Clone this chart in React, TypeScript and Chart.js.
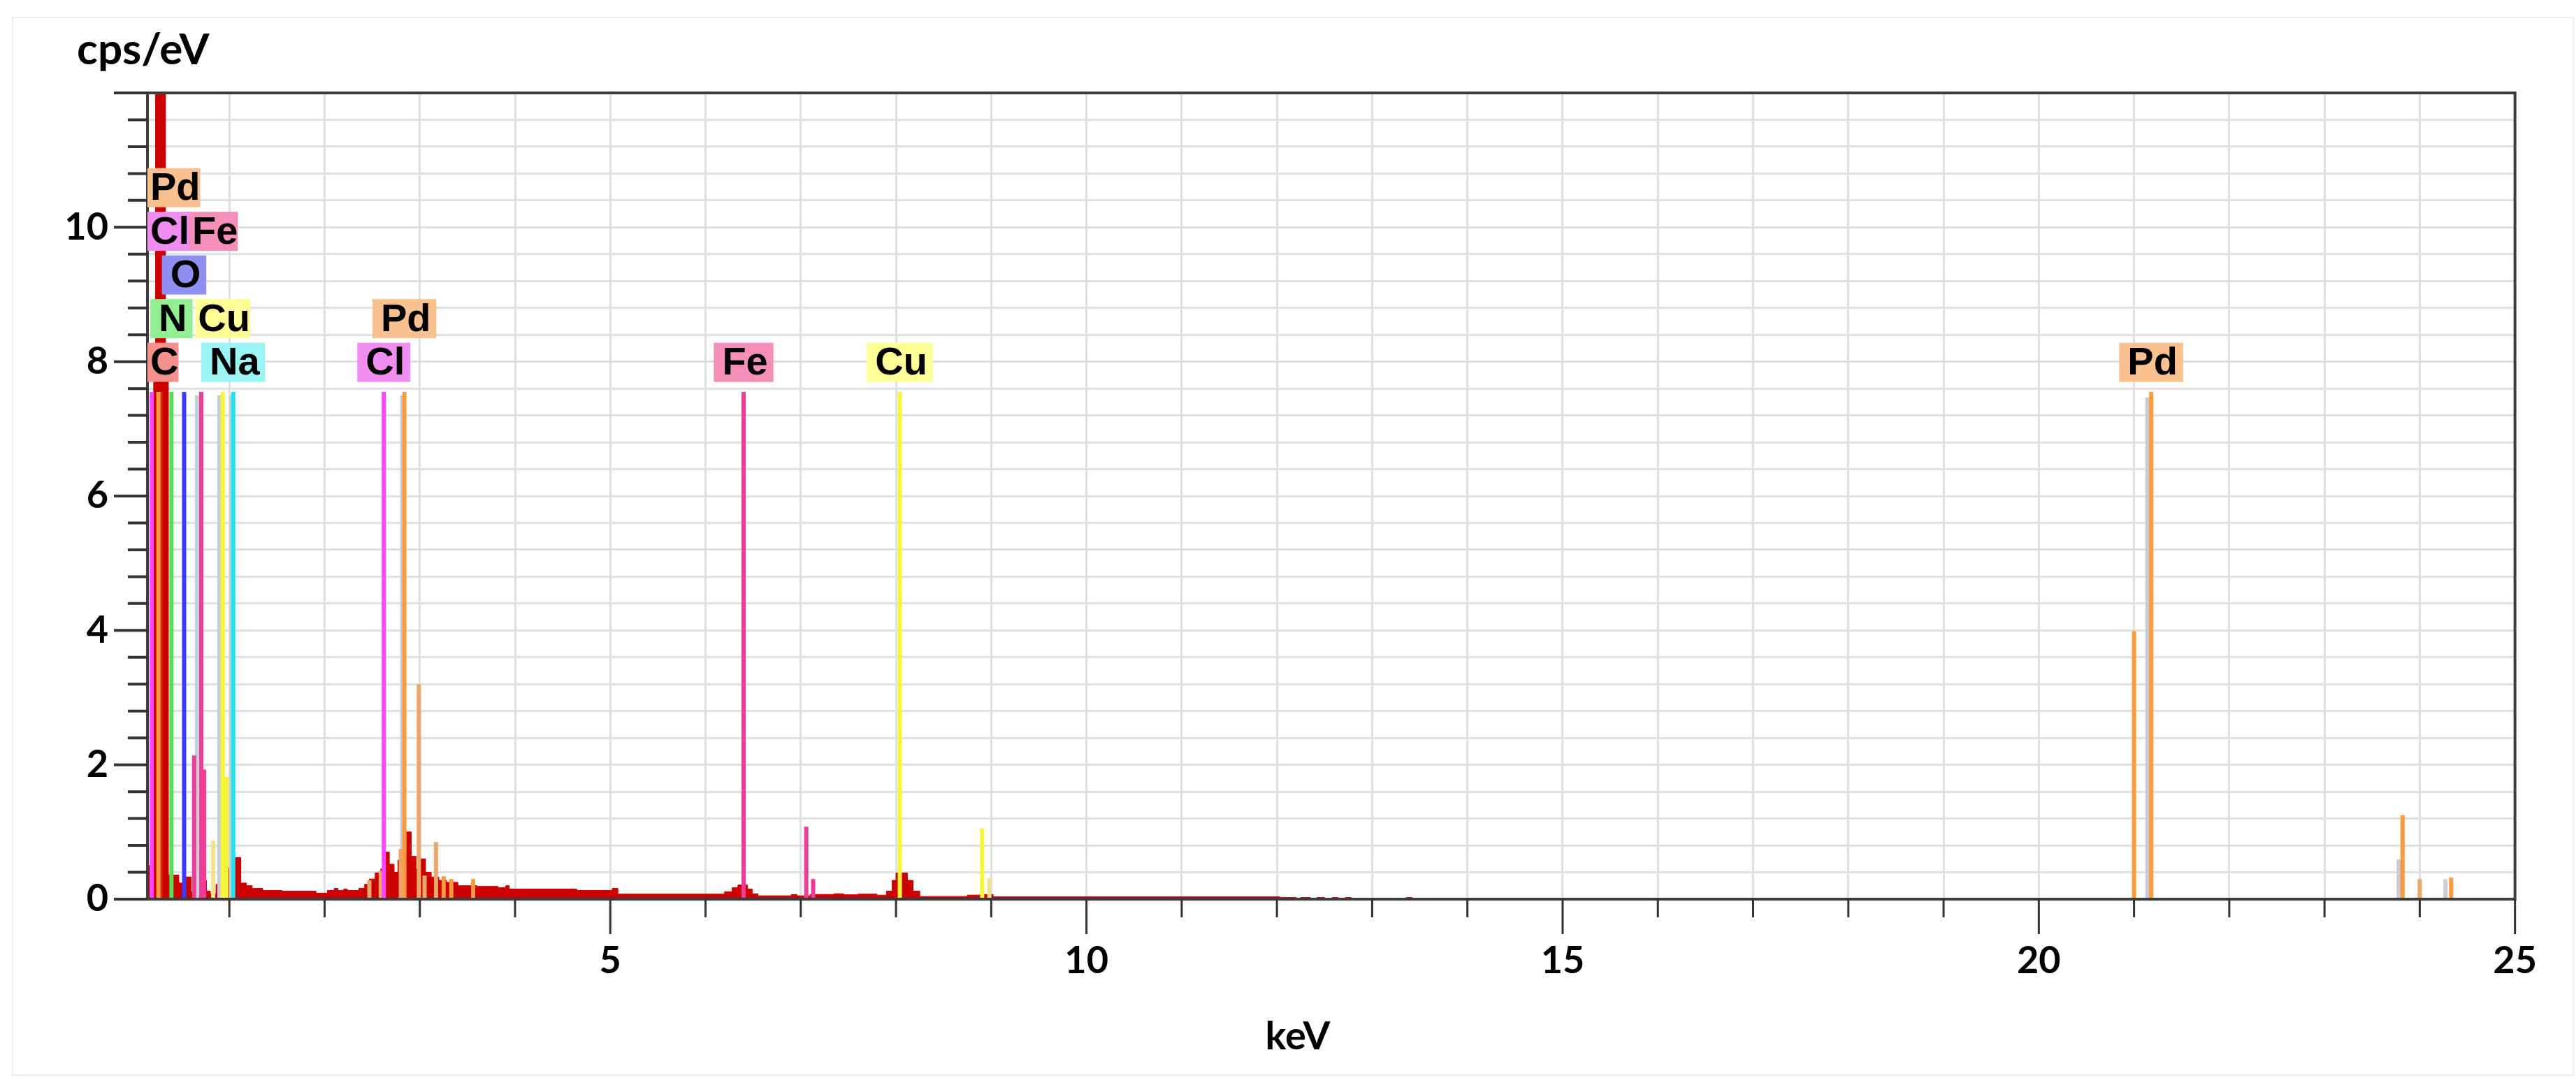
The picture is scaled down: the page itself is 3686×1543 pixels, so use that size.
import { useEffect, useRef } from "react";
import { Chart, registerables } from "chart.js";

Chart.register(...registerables);

// ---------------- data ----------------
// Measured spectrum, step bins: start energy (keV) and counts (cps/eV)
const SPECTRUM_KEV = [
  0.14, 0.19, 0.205, 0.225, 0.33, 0.36, 0.47, 0.515, 0.6, 0.67, 0.69, 0.76, 0.8, 0.86, 0.9, 0.96,
  1.02, 1.05, 1.12, 1.18, 1.24, 1.35, 1.55, 1.91, 2.03, 2.1, 2.14, 2.2, 2.24, 2.36, 2.42, 2.47,
  2.53, 2.59, 2.63, 2.68, 2.73, 2.77, 2.81, 2.86, 2.91, 2.96, 3.0, 3.06, 3.12, 3.2, 3.28, 3.4,
  3.6, 3.82, 3.9, 3.94, 4.65, 5.02, 5.08, 6.2, 6.28, 6.34, 6.44, 6.49, 6.55, 6.9, 6.96, 7.1,
  7.35, 7.45, 7.6, 7.8, 7.9, 7.96, 8.0, 8.12, 8.18, 8.25, 8.75, 8.88, 9.02, 12.03, 12.2, 12.25,
  12.35, 12.42, 12.5, 12.58, 12.64, 12.72, 12.78, 13.36, 13.42,
];
const SPECTRUM_CPS = [
  0.5, 0.5, 7.7, 14, 7.7, 0.36, 0.24, 0.33, 0.11, 0.06, 0.28, 0.12, 0.08, 0.22, 0.54, 0.46,
  0.42, 0.62, 0.24, 0.2, 0.16, 0.13, 0.12, 0.09, 0.13, 0.16, 0.13, 0.15, 0.13, 0.16, 0.22, 0.3,
  0.39, 0.45, 0.7, 0.52, 0.4, 0.58, 0.76, 1.0, 0.64, 0.45, 0.6, 0.4, 0.33, 0.28, 0.25, 0.2,
  0.19, 0.17, 0.2, 0.15, 0.13, 0.16, 0.075, 0.11, 0.17, 0.21, 0.15, 0.08, 0.05, 0.07, 0.05, 0.07,
  0.08, 0.065, 0.075, 0.06, 0.12, 0.28, 0.39, 0.28, 0.12, 0.04, 0.06, 0.07, 0.035, 0.025, 0, 0.025,
  0, 0.025, 0, 0.025, 0, 0.025, 0, 0.025, 0,
];

// Element line markers: energy (keV) and marker height (cps/eV)
const C_KEV = [0.277];
const C_CPS = [7.55];
const N_KEV = [0.392];
const N_CPS = [7.55];
const O_KEV = [0.525];
const O_CPS = [7.55];
const NA_KEV = [1.041];
const NA_CPS = [7.55];
const CL_KEV = [0.185, 2.622];
const CL_CPS = [7.55, 7.55];
const FE_KEV = [0.63, 0.705, 0.735, 6.4, 7.058, 7.13];
const FE_CPS = [2.14, 7.55, 1.93, 7.55, 1.08, 0.3];
const CU_KEV = [0.93, 0.97, 8.04, 8.905];
const CU_CPS = [7.55, 1.82, 7.55, 1.05];
const CU_MINOR_KEV = [0.83, 8.98];
const CU_MINOR_CPS = [0.87, 0.31];
const PD_KEV = [0.255, 2.838, 3.25, 3.33, 3.56, 21.0, 21.18, 23.82, 24.33];
const PD_CPS = [7.55, 7.55, 0.34, 0.3, 0.3, 3.99, 7.55, 1.25, 0.32];
const PD_MINOR_KEV = [2.47, 2.59, 2.8, 2.99, 3.05, 3.17, 24.0];
const PD_MINOR_CPS = [0.28, 0.42, 0.75, 3.2, 0.35, 0.85, 0.3];
const OTHER_KEV = [0.66, 0.895, 1.02, 2.815, 21.14, 23.78, 24.27];
const OTHER_CPS = [7.5, 7.5, 7.5, 7.5, 7.47, 0.59, 0.3];

// Peak labels: text, energy it belongs to, stacking row
const LABEL_TEXT = ["C", "Na", "Cl", "Fe", "Cu", "Pd", "N", "Cu", "Pd", "O", "Cl", "Fe", "Pd"];
const LABEL_KEV = [0.277, 1.041, 2.622, 6.4, 8.04, 21.18, 0.392, 0.93, 2.838, 0.525, 0.185, 0.705, 0.255];
const LABEL_ROW = [0, 0, 0, 0, 0, 0, 1, 1, 1, 2, 3, 3, 4];

// Axes
const X_MIN = 0.14;
const X_MAX = 25;
const Y_MIN = 0;
const Y_MAX = 12;
const X_TICK_LABELS = [5, 10, 15, 20, 25];
const Y_TICK_LABELS = [0, 2, 4, 6, 8, 10];
const X_MINOR_STEP = 1;
const Y_MINOR_STEP = 0.4;

// ---------------- styles ----------------
const SERIES = [
  { name: "Pd", keV: PD_KEV, cps: PD_CPS, color: "#ff9a3c" },
  { name: "Cl", keV: CL_KEV, cps: CL_CPS, color: "#ff45ff" },
  { name: "Fe", keV: FE_KEV, cps: FE_CPS, color: "#f03c96" },
  { name: "Cu", keV: CU_KEV, cps: CU_CPS, color: "#f7f53a" },
  { name: "Na", keV: NA_KEV, cps: NA_CPS, color: "#22e2f0" },
  { name: "O", keV: O_KEV, cps: O_CPS, color: "#3a3aff" },
  { name: "N", keV: N_KEV, cps: N_CPS, color: "#55dd55" },
  { name: "C", keV: C_KEV, cps: C_CPS, color: "#dd2222" },
  { name: "Pd minor", keV: PD_MINOR_KEV, cps: PD_MINOR_CPS, color: "#eba66a" },
  { name: "Cu minor", keV: CU_MINOR_KEV, cps: CU_MINOR_CPS, color: "#eee48e" },
  { name: "other", keV: OTHER_KEV, cps: OTHER_CPS, color: "#c9cdd5" },
];
const LABEL_BG: Record<string, string> = {
  Pd: "#f9c18f",
  Cl: "#f08ef0",
  Fe: "#f58fba",
  O: "#8f8ff2",
  N: "#92ee92",
  Cu: "#ffff98",
  C: "#f4918d",
  Na: "#9af4f4",
};
const AXIS_FONT = "Lato";
const LABEL_FONT = '"Liberation Sans"';

function markerData(keV: number[], cps: number[]) {
  const idx = keV.map((_, i) => i).sort((a, b) => keV[a] - keV[b]);
  const pts: { x: number; y: number | null }[] = [];
  idx.forEach((i) => {
    pts.push({ x: keV[i], y: 0 });
    pts.push({ x: keV[i], y: cps[i] });
    pts.push({ x: keV[i], y: null });
  });
  return pts;
}

const decorPlugin = {
  id: "edsDecor",
  beforeDraw(chart: any) {
    const { ctx, width, height } = chart;
    ctx.save();
    ctx.fillStyle = "#ffffff";
    ctx.fillRect(0, 0, width, height);
    ctx.strokeStyle = "#ededed";
    ctx.lineWidth = 2;
    ctx.strokeRect(18, 25, width - 22, height - 29);
    ctx.restore();
  },
  afterDatasetsDraw(chart: any) {
    const { ctx, chartArea: ca, scales } = chart;
    const xs = scales.x;
    const ys = scales.y;
    ctx.save();
    // frame
    ctx.strokeStyle = "#3c3c3c";
    ctx.lineWidth = 4;
    ctx.lineCap = "butt";
    ctx.beginPath();
    ctx.moveTo(ca.left, ca.top);
    ctx.lineTo(ca.left, ca.bottom);
    ctx.moveTo(ca.left - 2, ca.bottom);
    ctx.lineTo(ca.right + 2, ca.bottom);
    ctx.moveTo(ca.left, ca.top);
    ctx.lineTo(ca.right + 2, ca.top);
    ctx.moveTo(ca.right, ca.top);
    ctx.lineTo(ca.right, ca.bottom);
    ctx.stroke();
    // y ticks
    ctx.strokeStyle = "#333333";
    ctx.lineWidth = 4;
    ctx.beginPath();
    for (let i = 0; i * Y_MINOR_STEP <= Y_MAX + 1e-9; i++) {
      const v = +(i * Y_MINOR_STEP).toFixed(3);
      const major = Math.abs(v / 2 - Math.round(v / 2)) < 1e-6;
      const len = major ? 48 : 28;
      const py = ys.getPixelForValue(v);
      ctx.moveTo(ca.left - len, py);
      ctx.lineTo(ca.left, py);
    }
    ctx.stroke();
    // x ticks
    ctx.lineWidth = 3;
    ctx.beginPath();
    for (let v = X_MINOR_STEP; v <= X_MAX + 1e-9; v += X_MINOR_STEP) {
      const major = v % 5 === 0;
      const len = major ? 50 : 26;
      const px = xs.getPixelForValue(v);
      ctx.moveTo(px, ca.bottom);
      ctx.lineTo(px, ca.bottom + len);
    }
    ctx.stroke();

    // peak labels
    ctx.font = `bold 56px ${LABEL_FONT}`;
    ctx.textAlign = "center";
    ctx.textBaseline = "middle";
    const order = LABEL_TEXT.map((_, i) => i).sort(
      (a, b) => LABEL_ROW[a] - LABEL_ROW[b] || LABEL_KEV[a] - LABEL_KEV[b]
    );
    const rowRight: Record<number, number> = {};
    order.forEach((i) => {
      const text = LABEL_TEXT[i];
      const row = LABEL_ROW[i];
      const tw = ctx.measureText(text).width;
      const cx = xs.getPixelForValue(LABEL_KEV[i]);
      const cy = ys.getPixelForValue(7.99 + row * 0.65);
      const prev = rowRight[row] ?? ca.left;
      let w = tw + 20;
      let left = cx - w / 2;
      if (left < prev) {
        w = tw + 4;
        left = Math.max(cx - w / 2, prev);
      }
      rowRight[row] = left + w;
      ctx.fillStyle = LABEL_BG[text];
      ctx.fillRect(left, cy - 28, w, 56);
      ctx.fillStyle = "#000000";
      ctx.fillText(text, left + w / 2 + 2, cy + 2);
    });
    ctx.restore();
  },
  afterDraw(chart: any) {
    const { ctx } = chart;
    ctx.save();
    ctx.fillStyle = "#000000";
    ctx.textBaseline = "alphabetic";
    ctx.font = `bold 62px ${AXIS_FONT}`;
    ctx.textAlign = "left";
    ctx.fillText("cps/eV", 110, 92);
    ctx.font = `bold 56px ${AXIS_FONT}`;
    ctx.textAlign = "center";
    ctx.fillText("keV", 1857, 1502);
    ctx.restore();
  },
};

export default function App() {
  const ref = useRef<HTMLCanvasElement | null>(null);
  useEffect(() => {
    document.body.style.margin = "0";
    document.body.style.overflow = "hidden";
    const canvas = ref.current;
    if (!canvas) return;

    const datasets: any[] = SERIES.map((s, k) => ({
      type: "line",
      label: s.name,
      data: markerData(s.keV, s.cps),
      borderColor: s.color,
      backgroundColor: s.color,
      borderWidth: 6,
      borderCapStyle: "butt",
      pointRadius: 0,
      fill: false,
      spanGaps: false,
      order: k < 8 ? 1 : 2,
    }));
    datasets.push({
      type: "line",
      label: "spectrum",
      data: SPECTRUM_KEV.map((x, i) => ({ x, y: SPECTRUM_CPS[i] })),
      stepped: "before",
      fill: "origin",
      backgroundColor: "#cc0000",
      borderColor: "#cc0000",
      borderWidth: 1,
      pointRadius: 0,
      order: 10,
    });

    const chart = new Chart(canvas, {
      type: "line",
      data: { datasets },
      plugins: [decorPlugin],
      options: {
        animation: false,
        responsive: false,
        devicePixelRatio: 1,
        events: [],
        layout: { padding: { top: 133, right: 62, left: 0, bottom: 0 } },
        plugins: { legend: { display: false }, tooltip: { enabled: false } },
        scales: {
          x: {
            type: "linear",
            min: X_MIN,
            max: X_MAX,
            afterBuildTicks: (scale: any) => {
              const t: any[] = [];
              for (let v = X_MINOR_STEP; v <= X_MAX + 1e-9; v += X_MINOR_STEP) t.push({ value: v });
              scale.ticks = t;
            },
            afterFit: (scale: any) => {
              scale.height = 256;
            },
            grid: { color: "#e0e0e0", lineWidth: 3, drawTicks: false },
            border: { display: false },
            ticks: {
              autoSkip: false,
              maxRotation: 0,
              padding: 56,
              color: "#000000",
              font: { family: AXIS_FONT, size: 54, weight: "bold" },
              callback: (v: any) => (X_TICK_LABELS.includes(Number(v)) ? String(v) : ""),
            },
          },
          y: {
            type: "linear",
            min: Y_MIN,
            max: Y_MAX,
            afterBuildTicks: (scale: any) => {
              const t: any[] = [];
              for (let i = 0; i * Y_MINOR_STEP <= Y_MAX + 1e-9; i++)
                t.push({ value: +(i * Y_MINOR_STEP).toFixed(3) });
              scale.ticks = t;
            },
            afterFit: (scale: any) => {
              scale.width = 211;
            },
            grid: { color: "#e0e0e0", lineWidth: 3, drawTicks: false },
            border: { display: false },
            ticks: {
              autoSkip: false,
              padding: 56,
              color: "#000000",
              font: { family: AXIS_FONT, size: 54, weight: "bold" },
              callback: (v: any) => (Y_TICK_LABELS.includes(Number(v)) ? String(v) : ""),
            },
          },
        },
      } as any,
    });
    return () => chart.destroy();
  }, []);
  return (
    <canvas
      ref={ref}
      width={3686}
      height={1543}
      style={{ display: "block", width: "3686px", height: "1543px" }}
    />
  );
}
